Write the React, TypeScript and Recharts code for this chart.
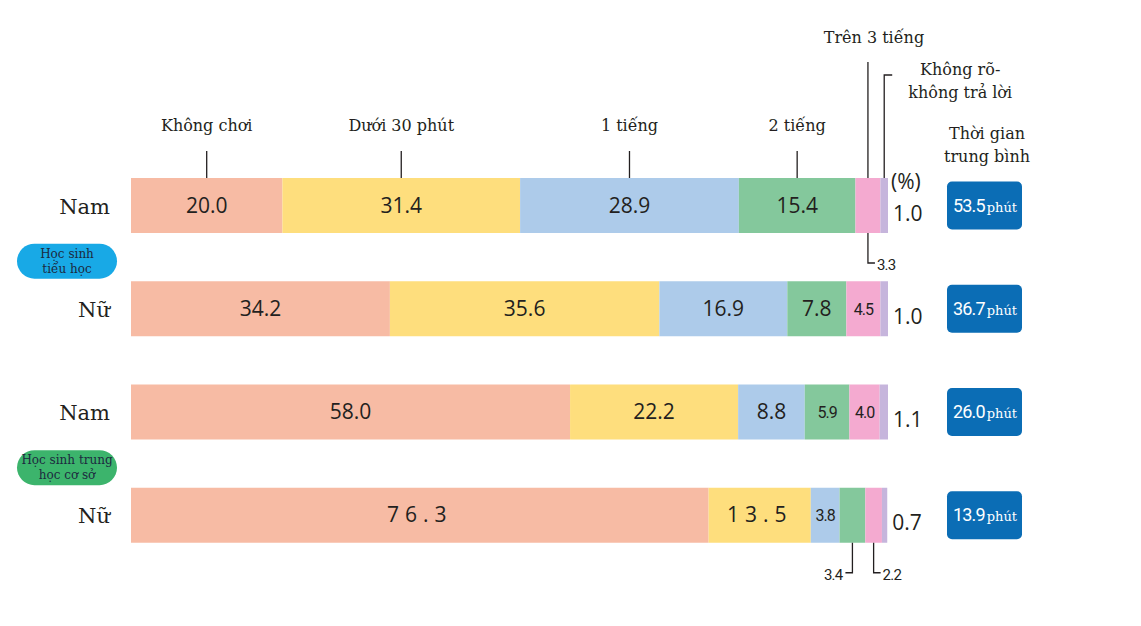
import React from 'react';
import { BarChart, Bar, XAxis, YAxis, LabelList, Customized } from 'recharts';

const categories = ['Không chơi', 'Dưới 30 phút', '1 tiếng', '2 tiếng', 'Trên 3 tiếng', 'Không rõ-không trả lời'];
const rowLabels = ['Nam', 'Nữ', 'Nam', 'Nữ'];
const groupLines = [
  ['Học sinh', 'tiểu học'],
  ['Học sinh trung', 'học cơ sở'],
];

const khongChoi = [20.0, 34.2, 58.0, 76.3];
const duoi30 = [31.4, 35.6, 22.2, 13.5];
const motTieng = [28.9, 16.9, 8.8, 3.8];
const haiTieng = [15.4, 7.8, 5.9, 3.4];
const tren3 = [3.3, 4.5, 4.0, 2.2];
const khongRo = [1.0, 1.0, 1.1, 0.7];
const avgMinutes = [53.5, 36.7, 26.0, 13.9];

const seriesValues = [khongChoi, duoi30, motTieng, haiTieng, tren3, khongRo];
const colors = ['#f7bba4', '#fede7d', '#adcbea', '#84c89c', '#f4aad0', '#c6b5dc'];

const data = rowLabels.map((_, i) => {
  const row: Record<string, number> = { row: i };
  seriesValues.forEach((vals, s) => {
    row['s' + s] = vals[i];
  });
  return row;
});

const SERIF = "'DejaVu Serif', 'Liberation Serif', serif";
const SANS = "'Open Sans', 'Noto Sans', sans-serif";
const NARROW = "Roboto, 'Noto Sans', sans-serif";
const INK = '#231f20';

const serif = (size: number) => ({ fontFamily: SERIF, fontSize: size });
const sans = (size: number) => ({ fontFamily: SANS, fontSize: size });
const narrow = (size: number) => ({ fontFamily: NARROW, fontSize: size });

// callouts for segments too thin to hold their number: row-series -> side
const callouts: Record<string, 'left' | 'right'> = { '0-4': 'right', '3-3': 'left', '3-4': 'right' };

const renderLabel = (si: number) => (props: any) => {
  const vb = props.viewBox || {};
  const x = Number(props.x ?? vb.x);
  const y = Number(props.y ?? vb.y);
  const w = Number(props.width ?? vb.width);
  const h = Number(props.height ?? vb.height);
  const idx = props.index;
  const val = seriesValues[si][idx];
  const txt = val.toFixed(1);
  const cx = x + w / 2;
  const cy = y + h / 2;
  const parts: React.ReactNode[] = [];

  // headers above the first bar
  if (idx === 0) {
    if (si <= 3) {
      parts.push(
        <text key="h" x={cx} y={y - 47} textAnchor="middle" style={serif(16)} fill={INK}>
          {categories[si]}
        </text>,
        <line key="hl" x1={cx} x2={cx} y1={y - 27} y2={y} stroke={INK} strokeWidth={1.3} />
      );
    } else if (si === 4) {
      parts.push(
        <text key="h" x={cx + 6} y={43} textAnchor="middle" style={serif(16)} fill={INK}>
          {categories[si]}
        </text>,
        <line key="hl" x1={cx} x2={cx} y1={62} y2={y} stroke={INK} strokeWidth={1.3} />
      );
    } else {
      const [l1, l2] = categories[si].split('-');
      parts.push(
        <text key="h1" x={cx + 76} y={75} textAnchor="middle" style={serif(16)} fill={INK}>
          {l1 + '-'}
        </text>,
        <text key="h2" x={cx + 76} y={98} textAnchor="middle" style={serif(16)} fill={INK}>
          {l2}
        </text>,
        <polyline key="hl" points={`${cx + 8},75 ${cx},75 ${cx},${y}`} fill="none" stroke={INK} strokeWidth={1.3} />
      );
    }
  }

  const side = callouts[idx + '-' + si];
  if (si === 5) {
    parts.push(
      <text key="v" x={x + w + 5} y={cy + 15} style={sans(21)} fill={INK}>
        {txt}
      </text>
    );
    // average time box
    parts.push(
      <g key="box">
        <rect x={947} y={cy - 24} width={75} height={48} rx={5} fill="#0b6db5" />
        <text x={985} y={cy + 6} textAnchor="middle" fill="#ffffff">
          <tspan style={narrow(18)} letterSpacing={-0.8}>
            {avgMinutes[idx].toFixed(1)}
          </tspan>
          <tspan style={serif(13)} dx={2}>
            phút
          </tspan>
        </text>
      </g>
    );
  } else if (side) {
    const by = y + h;
    const ly = by + 30;
    const ex = side === 'right' ? cx + 7 : cx - 7;
    parts.push(
      <polyline key="c" points={`${cx},${by} ${cx},${ly} ${ex},${ly}`} fill="none" stroke={INK} strokeWidth={1.3} />,
      <text
        key="v"
        x={side === 'right' ? ex + 2 : ex - 3}
        y={ly + 7}
        textAnchor={side === 'right' ? 'start' : 'end'}
        style={narrow(15)}
        letterSpacing={-0.8}
        fill={INK}
      >
        {txt}
      </text>
    );
  } else if (w < 50) {
    parts.push(
      <text key="v" x={cx} y={cy + 6} textAnchor="middle" style={narrow(16)} letterSpacing={-1} fill={INK}>
        {txt}
      </text>
    );
  } else {
    const spaced = idx === 3 && si <= 1;
    parts.push(
      <text key="v" x={cx} y={cy + 7} textAnchor="middle" style={sans(21)} letterSpacing={spaced ? 6 : 0} fill={INK}>
        {txt}
      </text>
    );
  }
  return <g>{parts}</g>;
};

const RowTick = (props: any) => {
  const { y, payload, index } = props;
  const i = Number(payload?.value ?? index);
  const g = i === 0 ? 0 : i === 2 ? 1 : -1;
  return (
    <g>
      <text x={110} y={y + 8} textAnchor="end" style={serif(21)} fill={INK}>
        {rowLabels[i]}
      </text>
      {g >= 0 && (
        <g>
          <rect x={17} y={y + 38} width={100} height={35} rx={17.5} fill={g === 0 ? '#18a9e6' : '#3cb46c'} />
          <text x={67} y={y + 52} textAnchor="middle" style={serif(12)} fill="#1c2a40">
            {groupLines[g][0]}
          </text>
          <text x={67} y={y + 67} textAnchor="middle" style={serif(12)} fill="#1c2a40">
            {groupLines[g][1]}
          </text>
        </g>
      )}
    </g>
  );
};

const StaticText = () => (
  <g>
    <text x={891} y={189} style={sans(21)} fill={INK}>
      (%)
    </text>
    <text x={987} y={139} textAnchor="middle" style={serif(16)} fill={INK}>
      Thời gian
    </text>
    <text x={987} y={162} textAnchor="middle" style={serif(16)} fill={INK}>
      trung bình
    </text>
  </g>
);

export default function App() {
  return (
    <div style={{ position: 'absolute', left: 0, top: 0, width: 1141, height: 626, background: '#fff' }}>
      <BarChart
        width={1141}
        height={626}
        data={data}
        layout="vertical"
        margin={{ top: 154, right: 253, bottom: 59, left: 0 }}
        barSize={55}
      >
        <XAxis type="number" domain={[0, 100]} hide />
        <YAxis
          type="category"
          dataKey="row"
          width={131}
          axisLine={false}
          tickLine={false}
          tick={<RowTick />}
          interval={0}
        />
        {seriesValues.map((_, si) => (
          <Bar key={si} dataKey={'s' + si} stackId="a" fill={colors[si]} isAnimationActive={false}>
            <LabelList dataKey={'s' + si} content={renderLabel(si)} />
          </Bar>
        ))}
        <Customized component={StaticText} />
      </BarChart>
    </div>
  );
}
